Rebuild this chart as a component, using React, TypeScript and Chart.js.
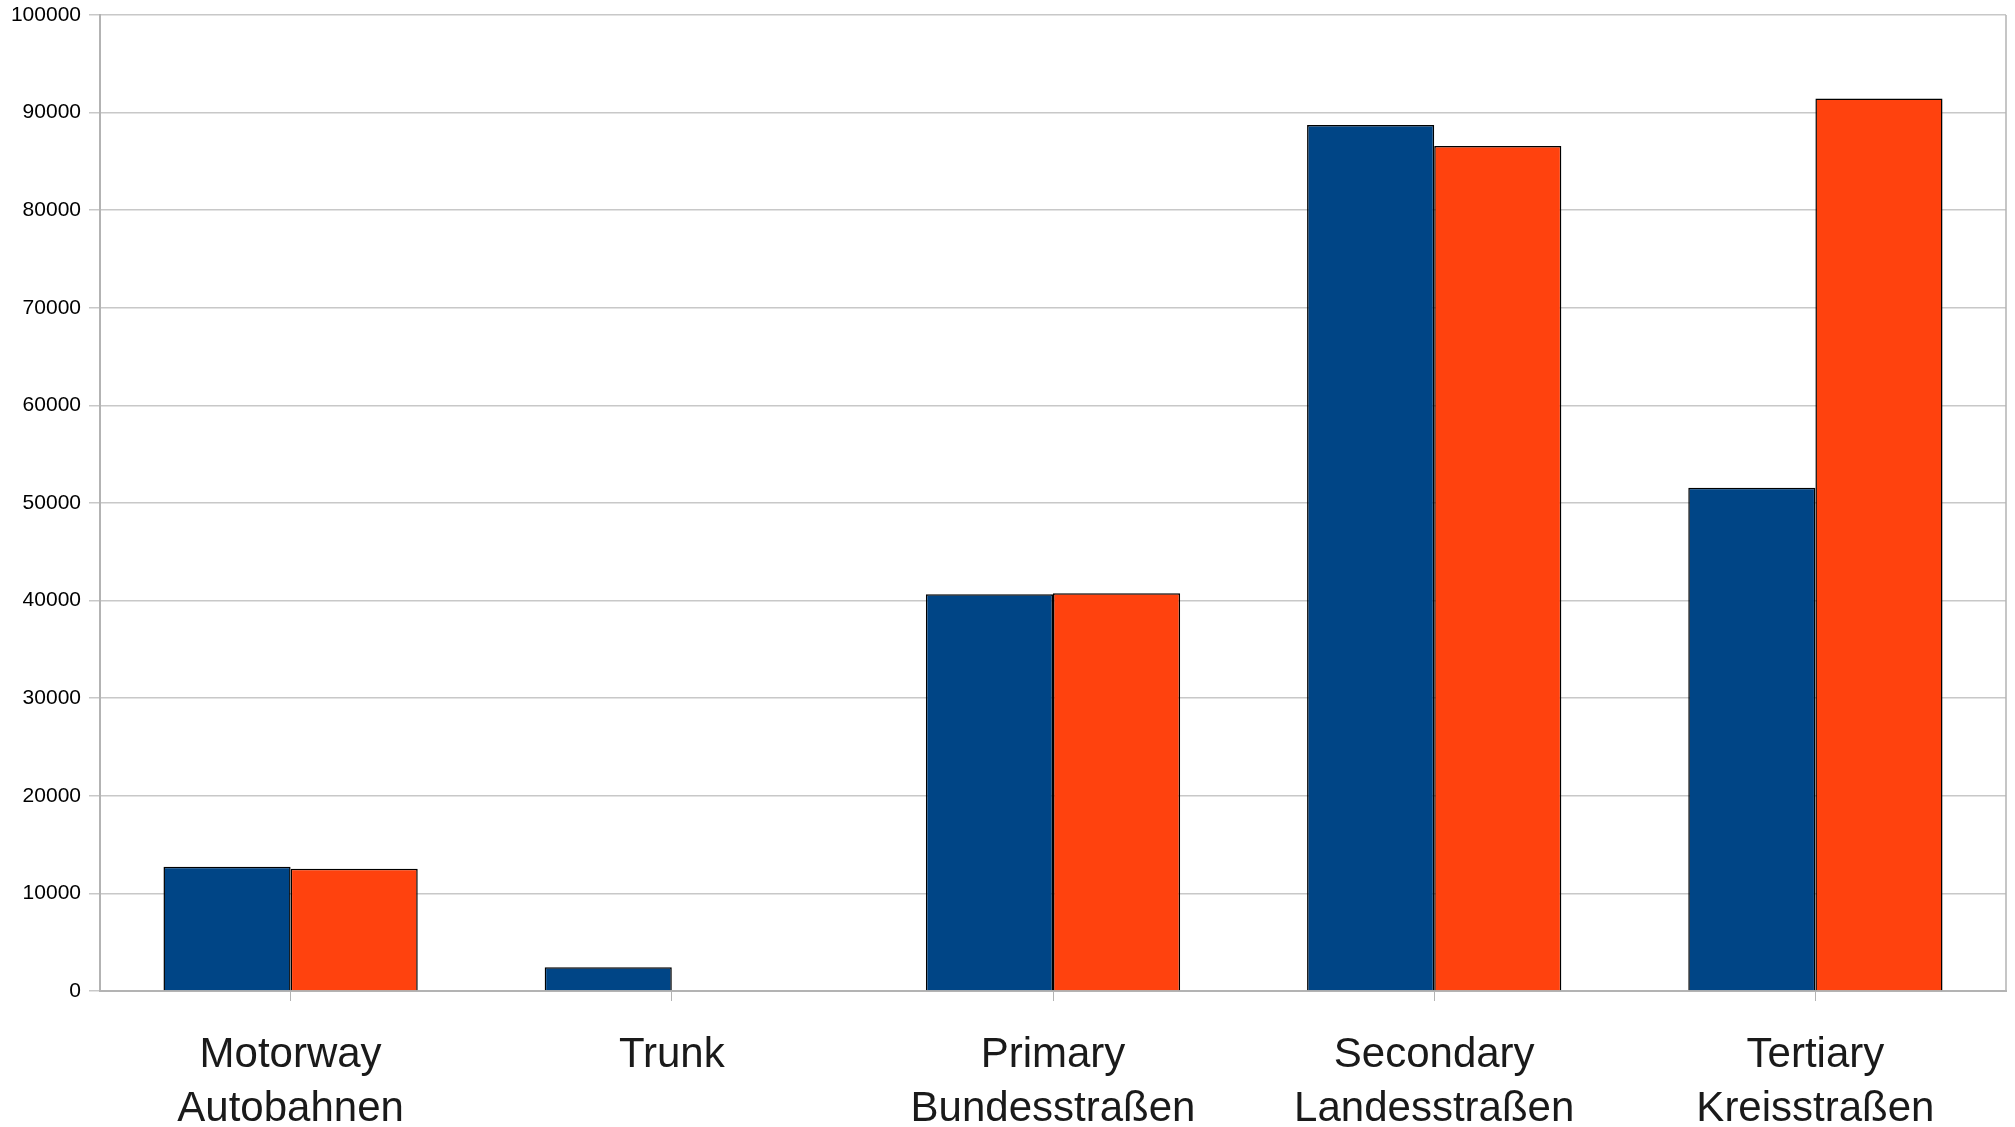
import React, { useEffect, useRef } from "react";
import { Chart, registerables } from "chart.js";

Chart.register(...registerables);

const categories: string[][] = [
  ["Motorway", "Autobahnen"],
  ["Trunk"],
  ["Primary", "Bundesstraßen"],
  ["Secondary", "Landesstraßen"],
  ["Tertiary", "Kreisstraßen"],
];
const seriesBlue: (number | null)[] = [12720, 2430, 40650, 88740, 51570];
const seriesRed: (number | null)[] = [12520, null, 40760, 86590, 91450];
const yMin = 0;
const yMax = 100000;
const yStep = 10000;

const frame = {
  id: "frame",
  afterDraw(chart: any) {
    const { ctx, chartArea } = chart;
    ctx.save();
    ctx.strokeStyle = "#b3b3b3";
    ctx.lineWidth = 1.5;
    ctx.beginPath();
    ctx.moveTo(chartArea.right, chartArea.top);
    ctx.lineTo(chartArea.right, chartArea.bottom);
    ctx.stroke();
    ctx.restore();
  },
};

export default function App() {
  const ref = useRef<HTMLCanvasElement | null>(null);
  useEffect(() => {
    if (!ref.current) return;
    const chart = new Chart(ref.current, {
      type: "bar",
      data: {
        labels: categories,
        datasets: [
          {
            label: "A",
            data: seriesBlue,
            backgroundColor: "#004586",
            borderColor: "#000000",
            borderWidth: 1.5,
            barPercentage: 1.0,
            categoryPercentage: 0.667,
          },
          {
            label: "B",
            data: seriesRed,
            backgroundColor: "#ff420e",
            borderColor: "#000000",
            borderWidth: 1.5,
            barPercentage: 1.0,
            categoryPercentage: 0.667,
          },
        ],
      },
      plugins: [frame],
      options: {
        animation: false,
        responsive: false,
        maintainAspectRatio: false,
        layout: { padding: { top: 15, right: 9, left: 0, bottom: 0 } },
        plugins: {
          legend: { display: false },
          tooltip: { enabled: false },
        },
        scales: {
          x: {
            afterFit(scale: any) {
              scale.height = 136;
            },
            grid: {
              drawOnChartArea: false,
              drawTicks: true,
              tickLength: 10,
              offset: false,
              color: "#b3b3b3",
            },
            border: { color: "#b3b3b3", width: 2 },
            ticks: {
              autoSkip: false,
              maxRotation: 0,
              minRotation: 0,
              padding: 28,
              color: "#1a1a1a",
              font: { family: "'Liberation Sans', Arial, sans-serif", size: 42, lineHeight: 1.28 },
            },
          },
          y: {
            min: yMin,
            max: yMax,
            afterFit(scale: any) {
              scale.width = 100;
              scale.paddingTop = 0;
              scale.paddingBottom = 0;
            },
            grid: {
              color: "#c8c8c8",
              lineWidth: 1.5,
              tickLength: 11,
              drawTicks: true,
            },
            border: { color: "#b3b3b3", width: 2 },
            ticks: {
              stepSize: yStep,
              padding: 8,
              color: "#000000",
              font: { family: "'Liberation Sans', Arial, sans-serif", size: 21 },
              callback: (v: any) => String(v),
            },
          },
        },
      },
    });
    return () => chart.destroy();
  }, []);
  return (
    <div style={{ position: "fixed", left: 0, top: 0, width: 2015, height: 1127, background: "#ffffff" }}>
      <canvas ref={ref} width={2015} height={1127} style={{ width: 2015, height: 1127, display: "block" }} />
    </div>
  );
}
